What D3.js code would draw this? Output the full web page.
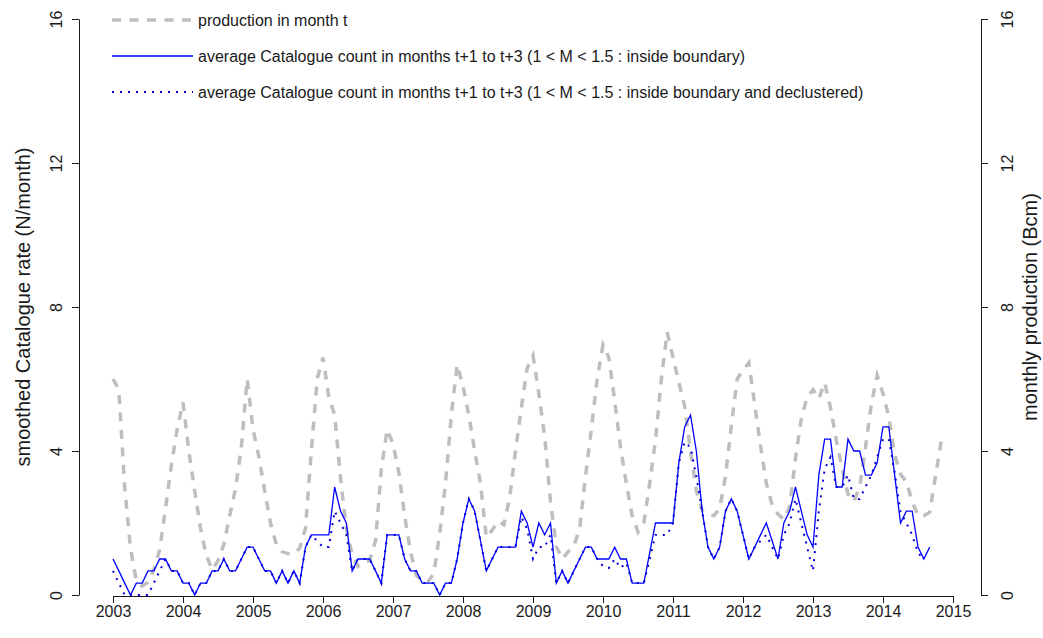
<!DOCTYPE html>
<html>
<head>
<meta charset="utf-8">
<script src="https://cdn.jsdelivr.net/npm/d3@7/dist/d3.min.js"></script>
<style>
body { margin: 0; background: #fff; }
text { font-family: "Liberation Sans", Arial, sans-serif; fill: #1a1a1a; }
</style>
</head>
<body>
<svg id="chart" width="1043" height="638"></svg>
<script>
// monthly series, first value = January 2003
var startYear = 2003;
var yearTicks = [2003, 2004, 2005, 2006, 2007, 2008, 2009, 2010, 2011, 2012, 2013, 2014, 2015];
var rateTicks = [0, 4, 8, 12, 16];

// production in month t (Bcm)
var production = [
	6.0, 5.7, 3.0, 1.3, 0.4, 0.25, 0.35, 0.7, 1.25, 2.4, 3.6, 4.6,
	5.35, 4.0, 2.9, 1.85, 1.1, 0.7, 0.95, 1.4, 2.2, 2.95, 4.1, 6.0,
	4.6, 3.85, 2.9, 2.0, 1.4, 1.2, 1.15, 1.15, 1.3, 1.85, 4.0, 6.0,
	6.6, 5.5, 5.0, 3.25, 1.85, 1.1, 0.8, 0.93, 0.95, 1.5, 3.5, 4.6,
	4.2, 3.4, 2.2, 1.2, 0.55, 0.4, 0.37, 0.6, 1.7, 3.1, 5.0, 6.4,
	5.8, 5.0, 4.0, 3.1, 1.6, 1.8, 2.05, 1.95, 2.7, 4.0, 5.2, 6.3,
	6.65, 5.6, 4.4, 2.6, 1.35, 1.0, 1.2, 1.35, 1.85, 3.3, 4.6, 6.0,
	6.95, 6.6, 5.4, 4.1, 3.1, 2.2, 1.75, 2.0, 3.1, 4.3, 6.0, 7.3,
	6.6, 5.9, 5.25, 4.0, 2.9, 2.35, 2.25, 2.2, 2.4, 3.3, 4.7, 6.0,
	6.25, 6.45, 5.3, 4.15, 3.1, 2.5, 2.25, 2.1, 2.45, 3.8, 4.9, 5.5,
	5.7, 5.45, 5.9, 5.2, 4.3, 3.5, 2.8, 2.6, 3.0, 4.1, 5.3, 6.1,
	5.6, 4.95, 3.9, 3.35, 3.15, 2.6, 2.2, 2.2, 2.3, 3.3, 4.3
];

// average Catalogue count in months t+1 to t+3, inside boundary
var catalogue = [
	1.0, 0.67, 0.33, 0, 0.33, 0.33, 0.67, 0.67, 1.0, 1.0, 0.67, 0.67,
	0.33, 0.33, 0, 0.33, 0.33, 0.67, 0.67, 1.0, 0.67, 0.67, 1.0, 1.33,
	1.33, 1.0, 0.67, 0.67, 0.33, 0.67, 0.33, 0.67, 0.33, 1.33, 1.67, 1.67,
	1.67, 1.67, 3.0, 2.33, 2.0, 0.67, 1.0, 1.0, 1.0, 0.67, 0.33, 1.67,
	1.67, 1.67, 1.0, 0.67, 0.67, 0.33, 0.33, 0.33, 0, 0.33, 0.33, 1.0,
	2.0, 2.67, 2.33, 1.5, 0.67, 1.0, 1.33, 1.33, 1.33, 1.33, 2.33, 2.0,
	1.33, 2.0, 1.67, 2.0, 0.33, 0.67, 0.33, 0.67, 1.0, 1.33, 1.33, 1.0,
	1.0, 1.0, 1.33, 1.0, 1.0, 0.33, 0.33, 0.33, 1.17, 2.0, 2.0, 2.0,
	2.0, 3.67, 4.67, 5.0, 4.0, 2.33, 1.33, 1.0, 1.33, 2.33, 2.67, 2.33,
	1.67, 1.0, 1.33, 1.67, 2.0, 1.5, 1.0, 2.0, 2.33, 3.0, 2.33, 1.67,
	1.33, 3.33, 4.33, 4.33, 3.0, 3.0, 4.33, 4.0, 4.0, 3.33, 3.33, 3.67,
	4.67, 4.67, 3.33, 2.0, 2.33, 2.33, 1.33, 1.0, 1.33
];

// same count, inside boundary and declustered
var declustered = [
	0.67, 0.33, 0, 0, 0, 0, 0, 0.33, 0.67, 1.0, 0.67, 0.67,
	0.33, 0.33, 0, 0.33, 0.33, 0.67, 0.67, 1.0, 0.67, 0.67, 1.0, 1.33,
	1.33, 1.0, 0.67, 0.67, 0.33, 0.67, 0.33, 0.67, 0.33, 1.33, 1.67, 1.5,
	1.33, 1.33, 2.33, 2.0, 1.67, 0.67, 1.0, 1.0, 1.0, 0.67, 0.33, 1.67,
	1.67, 1.67, 1.0, 0.67, 0.67, 0.33, 0.33, 0.33, 0, 0.33, 0.33, 1.0,
	2.0, 2.67, 2.33, 1.5, 0.67, 1.0, 1.33, 1.33, 1.33, 1.33, 2.17, 1.83,
	1.0, 1.33, 1.33, 1.67, 0.33, 0.67, 0.33, 0.67, 1.0, 1.33, 1.33, 1.0,
	0.8, 0.75, 1.0, 0.75, 0.9, 0.33, 0.33, 0.33, 1.0, 1.67, 1.67, 1.67,
	2.0, 3.67, 4.25, 4.1, 3.3, 2.33, 1.33, 1.0, 1.33, 2.33, 2.67, 2.33,
	1.67, 1.0, 1.33, 1.5, 1.67, 1.33, 1.0, 1.67, 2.0, 2.67, 2.0, 1.33,
	0.67, 2.33, 3.5, 3.83, 3.0, 3.0, 3.33, 2.67, 2.67, 3.0, 3.33, 3.83,
	4.33, 4.33, 3.4, 2.3, 2.0, 1.67, 1.17, 1.0
];

var legendLabels = [
	"production in month t",
	"average Catalogue count in months t+1 to t+3 (1 < M < 1.5 : inside boundary)",
	"average Catalogue count in months t+1 to t+3 (1 < M < 1.5 : inside boundary and declustered)"
];

function drawChart(){
	var svg = d3.select("#chart");
	var left = 79, right = 981, top = 19, bottom = 595;

	var x = d3.scaleLinear().domain([2003, 2015]).range([113, 953]);
	var y = d3.scaleLinear().domain([0, 16]).range([bottom, top]);

	var lineFunction = d3.line()
		.x(function(d, i) { return x(startYear + i / 12); })
		.y(function(d) { return y(d); })
		.curve(d3.curveLinear);

	// series
	svg.append("path")
		.attr("d", lineFunction(production))
		.attr("stroke", "#bebebe")
		.attr("stroke-width", 3.5)
		.attr("stroke-dasharray", "9,8.5")
		.attr("fill", "none");
	svg.append("path")
		.attr("d", lineFunction(catalogue))
		.attr("stroke", "#0000ff")
		.attr("stroke-width", 1.3)
		.attr("fill", "none");
	svg.append("path")
		.attr("d", lineFunction(declustered))
		.attr("stroke", "#0000dd")
		.attr("stroke-width", 2)
		.attr("stroke-dasharray", "2,6")
		.attr("fill", "none");

	// axes
	var xAxis = svg.append("g")
		.attr("transform", "translate(0," + (bottom + 1) + ")")
		.call(d3.axisBottom(x).tickValues(yearTicks).tickFormat(d3.format("d")).tickSize(7).tickSizeOuter(0));
	xAxis.selectAll("text").attr("y", 10).style("font-size", "16px");

	var yLeft = svg.append("g")
		.attr("transform", "translate(" + left + ",0)")
		.call(d3.axisLeft(y).tickValues(rateTicks).tickSize(7).tickSizeOuter(0));
	yLeft.selectAll("text")
		.attr("x", 0).attr("dy", 0)
		.attr("text-anchor", "middle")
		.attr("transform", "translate(-17,0) rotate(-90)")
		.style("font-size", "16px");

	var yRight = svg.append("g")
		.attr("transform", "translate(" + right + ",0)")
		.call(d3.axisRight(y).tickValues(rateTicks).tickSize(7).tickSizeOuter(0));
	yRight.selectAll("text")
		.attr("x", 0).attr("dy", 0)
		.attr("text-anchor", "middle")
		.attr("transform", "translate(32,0) rotate(-90)")
		.style("font-size", "16px");

	svg.selectAll(".domain, .tick line").attr("stroke", "#1a1a1a");

	// axis titles
	svg.append("text")
		.attr("transform", "translate(30," + (top + bottom) / 2 + ") rotate(-90)")
		.attr("text-anchor", "middle")
		.style("font-size", "20px")
		.text("smoothed Catalogue rate (N/month)");
	svg.append("text")
		.attr("transform", "translate(1037," + (top + bottom) / 2 + ") rotate(-90)")
		.attr("text-anchor", "middle")
		.style("font-size", "20px")
		.text("monthly production (Bcm)");

	// legend
	var legend = svg.append("g");
	var legendY = [20, 56, 92];
	var styles = [
		{stroke: "#bebebe", width: 3.5, dash: "9,8.5"},
		{stroke: "#0000ff", width: 1.6, dash: null},
		{stroke: "#0000dd", width: 2, dash: "2,6"}
	];
	legendLabels.forEach(function(label, i){
		legend.append("line")
			.attr("x1", 112).attr("x2", 193)
			.attr("y1", legendY[i]).attr("y2", legendY[i])
			.attr("stroke", styles[i].stroke)
			.attr("stroke-width", styles[i].width)
			.attr("stroke-dasharray", styles[i].dash);
		legend.append("text")
			.attr("x", 198)
			.attr("y", legendY[i])
			.attr("dy", "0.35em")
			.style("font-size", "16px")
			.text(label);
	});
}

drawChart();
</script>
</body>
</html>
